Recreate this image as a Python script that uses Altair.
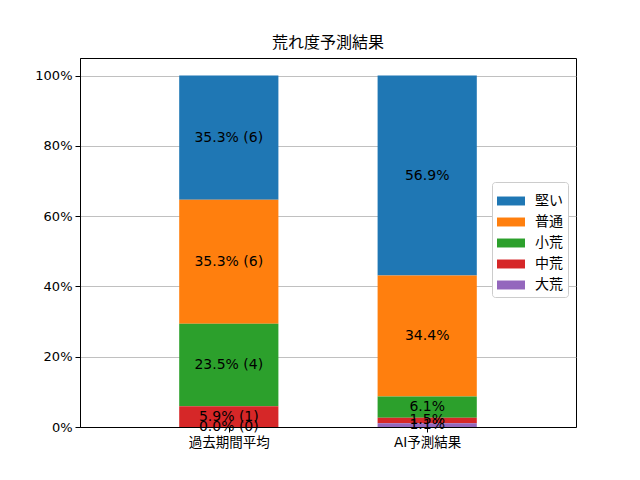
import altair as alt
import pandas as pd

categories = ["過去期間平均", "AI予測結果"]
levels = ["堅い", "普通", "小荒", "中荒", "大荒"]
colors = ["#1f77b4", "#ff7f0e", "#2ca02c", "#d62728", "#9467bd"]
past_pct = [35.3, 35.3, 23.5, 5.9, 0.0]
past_cnt = [6, 6, 4, 1, 0]
ai_pct = [56.9, 34.4, 6.1, 1.5, 1.1]

rows = []
for i, lv in enumerate(levels):
    rows.append({"xi": 0, "cat": categories[0], "level": lv, "ord": len(levels) - i,
                 "val": past_pct[i] / 100, "label": f"{past_pct[i]:.1f}% ({past_cnt[i]})"})
    rows.append({"xi": 1, "cat": categories[1], "level": lv, "ord": len(levels) - i,
                 "val": ai_pct[i] / 100, "label": f"{ai_pct[i]:.1f}%"})
df = pd.DataFrame(rows)

FONT = "DejaVu Sans, Noto Sans CJK JP"
CJK = "Noto Sans CJK JP"

base = alt.Chart(df).transform_stack(
    stack="val", groupby=["cat"], as_=["y0", "y1"], sort=[alt.SortField("ord", order="ascending")]
).transform_calculate(
    xl="datum.xi - 0.25", xr="datum.xi + 0.25", ym="(datum.y0 + datum.y1) / 2"
)

xscale = alt.Scale(domain=[-0.75, 1.75], nice=False, zero=False)
yscale = alt.Scale(domain=[0, 1.05], nice=False)

bars = base.mark_bar(stroke=None).encode(
    x=alt.X("xl:Q", scale=xscale, title=None,
            axis=alt.Axis(values=[0, 1], grid=False,
                          labelExpr="datum.value == 0 ? '過去期間平均' : 'AI予測結果'",
                          labelFont=FONT, labelFontSize=13.5, labelColor="black",
                          tickColor="black", tickSize=5, domainColor="black", labelPadding=3)),
    x2="xr:Q",
    y=alt.Y("y0:Q", scale=yscale, title=None,
            axis=alt.Axis(values=[0, 0.2, 0.4, 0.6, 0.8, 1.0], format=".0%",
                          grid=True, gridColor="#b0b0b0", gridWidth=0.8,
                          labelFont=FONT, labelFontSize=13, labelColor="black",
                          tickColor="black", tickSize=5, domainColor="black", labelPadding=3)),
    y2="y1:Q",
    color=alt.Color("level:N", scale=alt.Scale(domain=levels, range=colors),
                    legend=alt.Legend(title=None, orient="none", legendX=412, legendY=124,
                                      symbolType="M-1,-0.32L1,-0.32L1,0.32L-1,0.32Z",
                                      symbolSize=784, symbolStrokeWidth=0,
                                      labelFont=CJK, labelFontSize=14, labelColor="black",
                                      labelOffset=10,
                                      fillColor="white", strokeColor="#cccccc", cornerRadius=3,
                                      padding=5, rowPadding=0, symbolOpacity=1)),
)

texts = base.mark_text(font=FONT, fontSize=14, color="black", baseline="middle").encode(
    x=alt.X("xi:Q", scale=xscale),
    y=alt.Y("ym:Q", scale=yscale),
    text="label:N",
)

chart = alt.layer(bars, texts).properties(
    width=496, height=369,
    title=alt.TitleParams("荒れ度予測結果", font=CJK, fontSize=16, fontWeight="normal",
                          color="black", offset=7),
    autosize=alt.AutoSizeParams(type="none"),
    padding={"left": 72, "top": 50, "right": 56, "bottom": 45},
).configure_view(stroke="black", strokeWidth=1).configure_axis(grid=True)

chart.save("out.html", embed_options={"renderer": "svg", "actions": False})
